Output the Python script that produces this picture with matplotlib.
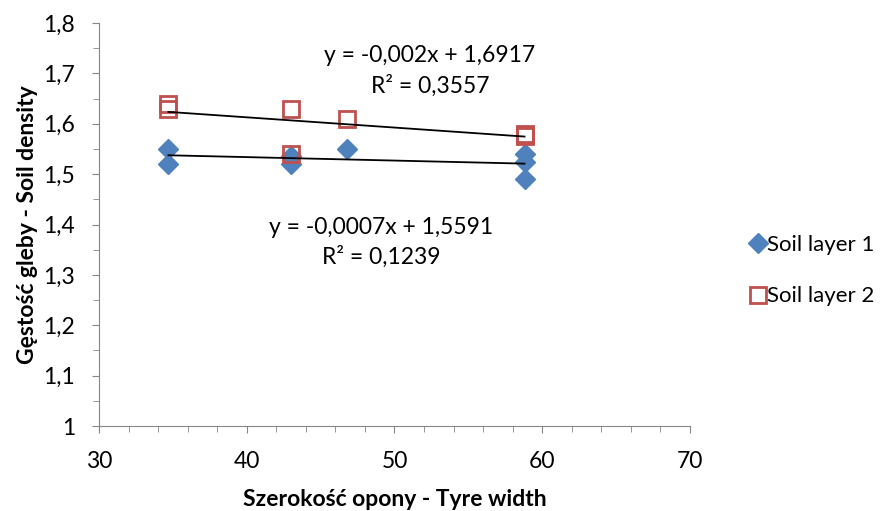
import numpy as np
import matplotlib.pyplot as plt
from matplotlib.ticker import MultipleLocator, FuncFormatter

# dane
x1 = [34.7, 34.7, 43.0, 43.0, 46.8, 58.8, 58.8, 58.8]
y1 = [1.55, 1.52, 1.535, 1.52, 1.55, 1.54, 1.525, 1.49]
x2 = [34.7, 34.7, 43.0, 43.0, 46.8, 58.8, 58.8, 58.8]
y2 = [1.64, 1.63, 1.63, 1.54, 1.61, 1.58, 1.578, 1.575]
eq1 = ["y = -0,0007x + 1,5591", "R² = 0,1239"]
eq2 = ["y = -0,002x + 1,6917", "R² = 0,3557"]

plt.rcParams['font.family'] = ['Lato', 'DejaVu Sans']
fig = plt.figure(figsize=(8.86, 5.11), dpi=100)
ax = fig.add_axes([0.1117, 0.1663, 0.6671, 0.7887])

blue = "#4F81BD"
red = "#C0504D"
fs = 16.5
ax.plot(x1, y1, linestyle="none", marker="D", markersize=10.5, color=blue, label="Soil layer 1", zorder=3)
ax.plot(x2, y2, linestyle="none", marker="s", markersize=11.5, markerfacecolor="none",
        markeredgecolor=red, markeredgewidth=2, label="Soil layer 2", zorder=3)

# linie trendu
for xs, ys in [(x1, y1), (x2, y2)]:
    a, b = np.polyfit(xs, ys, 1)
    xx = np.array([min(xs), max(xs)])
    ax.plot(xx, a * xx + b, color="black", lw=1.3, zorder=4)

ax.text(52.4, 1.735, eq2[0], ha="center", va="center", fontsize=fs)
ax.text(52.4, 1.675, eq2[1], ha="center", va="center", fontsize=fs)
ax.text(49.1, 1.395, eq1[0], ha="center", va="center", fontsize=fs)
ax.text(49.1, 1.335, eq1[1], ha="center", va="center", fontsize=fs)

ax.set_xlim(30, 70)
ax.set_ylim(1, 1.8)
ax.xaxis.set_major_locator(MultipleLocator(10))
ax.xaxis.set_minor_locator(MultipleLocator(2))
ax.yaxis.set_major_locator(MultipleLocator(0.1))
ax.yaxis.set_minor_locator(MultipleLocator(0.05))
ax.yaxis.set_major_formatter(FuncFormatter(lambda v, p: ("%g" % round(v, 1)).replace(".", ",")))

for s in ["top", "right"]:
    ax.spines[s].set_visible(False)
for s in ["left", "bottom"]:
    ax.spines[s].set_color("#868686")
ax.tick_params(which="both", color="#868686", direction="out", labelsize=fs)
ax.tick_params(which="major", length=5)
ax.tick_params(which="minor", length=4)
ax.tick_params(axis="x", pad=13)
ax.tick_params(axis="y", pad=12)

ax.set_xlabel("Szerokość opony - Tyre width", fontsize=fs, fontweight="bold", labelpad=12)
ax.set_ylabel("Gęstość gleby - Soil density", fontsize=fs, fontweight="bold", labelpad=4)

fig.legend(loc="center left", bbox_to_anchor=(0.843, 0.47), frameon=False, fontsize=16,
           handletextpad=-0.1, handlelength=1.0, labelspacing=1.4, borderaxespad=0,
           borderpad=0)

fig.savefig("out.png", dpi=100)
